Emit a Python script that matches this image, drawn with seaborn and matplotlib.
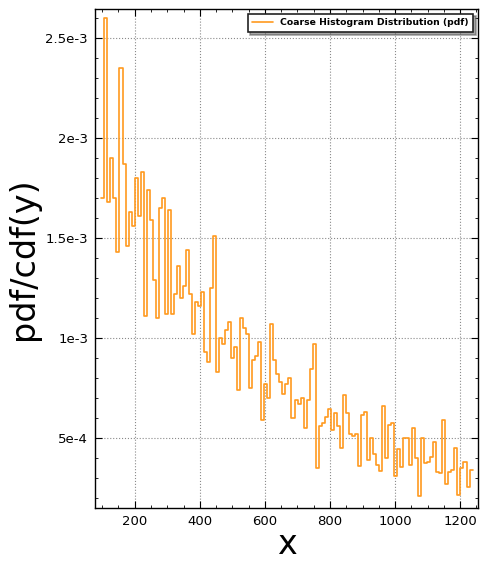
"""
Coarse histogram pdf drawn as a step outline with seaborn
"""

import numpy as np
import pandas as pd
import matplotlib
matplotlib.use('Agg')
import matplotlib.pyplot as plt
from matplotlib.ticker import MultipleLocator, FuncFormatter
import seaborn as sns

# Histogram data (bin range and pdf height per bin)
BIN_START = 97.5
BIN_END = 1238.0
PDF_VALUES = [
    1.70e-3, 2.60e-3, 1.68e-3, 1.90e-3, 1.70e-3, 1.43e-3, 2.35e-3, 1.87e-3, 1.46e-3, 1.63e-3,
    1.56e-3, 1.80e-3, 1.61e-3, 1.83e-3, 1.11e-3, 1.74e-3, 1.59e-3, 1.29e-3, 1.10e-3, 1.65e-3,
    1.70e-3, 1.12e-3, 1.64e-3, 1.12e-3, 1.22e-3, 1.36e-3, 1.20e-3, 1.26e-3, 1.44e-3, 1.22e-3,
    1.02e-3, 1.18e-3, 1.16e-3, 1.23e-3, 0.93e-3, 0.88e-3, 1.25e-3, 1.51e-3, 0.83e-3, 1.00e-3,
    0.97e-3, 1.04e-3, 1.08e-3, 0.90e-3, 0.955e-3, 0.74e-3, 1.10e-3, 1.05e-3, 1.02e-3, 0.75e-3,
    0.89e-3, 0.91e-3, 0.98e-3, 0.59e-3, 0.77e-3, 0.70e-3, 1.07e-3, 0.89e-3, 0.82e-3, 0.78e-3,
    0.72e-3, 0.77e-3, 0.80e-3, 0.60e-3, 0.69e-3, 0.67e-3, 0.70e-3, 0.55e-3, 0.69e-3, 0.845e-3,
    0.97e-3, 0.35e-3, 0.56e-3, 0.575e-3, 0.605e-3, 0.645e-3, 0.54e-3, 0.625e-3, 0.56e-3, 0.45e-3,
    0.715e-3, 0.625e-3, 0.52e-3, 0.51e-3, 0.52e-3, 0.36e-3, 0.615e-3, 0.63e-3, 0.39e-3, 0.50e-3,
    0.42e-3, 0.365e-3, 0.335e-3, 0.66e-3, 0.40e-3, 0.565e-3, 0.575e-3, 0.31e-3, 0.445e-3, 0.355e-3,
    0.50e-3, 0.50e-3, 0.365e-3, 0.55e-3, 0.40e-3, 0.21e-3, 0.50e-3, 0.375e-3, 0.38e-3, 0.405e-3,
    0.48e-3, 0.33e-3, 0.325e-3, 0.59e-3, 0.27e-3, 0.33e-3, 0.34e-3, 0.45e-3, 0.215e-3, 0.35e-3,
    0.38e-3, 0.255e-3, 0.34e-3,
]
LEGEND_LABEL = 'Coarse Histogram Distribution (pdf)'
X_LABEL = 'x'
Y_LABEL = 'pdf/cdf(y)'

LINE_COLOR = '#ff9a1f'

sns.set_style('ticks')
plt.rcParams['font.family'] = ['DejaVu Sans']


def sci_short(v, pos):
    """Format ticks like 2.5e-3, 5e-4"""
    if v == 0:
        return '0'
    mant, exp = f'{v:.1e}'.split('e')
    mant = mant.rstrip('0').rstrip('.')
    return f'{mant}e{int(exp)}'


def main():
    edges = np.linspace(BIN_START, BIN_END, len(PDF_VALUES) + 1)
    df = pd.DataFrame({
        'x': (edges[:-1] + edges[1:]) / 2,
        'pdf': PDF_VALUES,
    })

    fig, ax = plt.subplots(figsize=(4.8, 5.64), dpi=100)
    fig.subplots_adjust(left=0.198, right=0.996, top=0.984, bottom=0.099)

    sns.histplot(data=df, x='x', weights='pdf', bins=list(edges), element='step',
                 fill=False, color=LINE_COLOR, linewidth=1.2, label=LEGEND_LABEL, ax=ax)

    ax.set_xlim(78, 1255)
    ax.set_ylim(1.515e-4, 2.6465e-3)

    ax.xaxis.set_major_locator(MultipleLocator(200))
    ax.xaxis.set_minor_locator(MultipleLocator(50))
    ax.yaxis.set_major_locator(MultipleLocator(5e-4))
    ax.yaxis.set_minor_locator(MultipleLocator(1e-4))
    ax.yaxis.set_major_formatter(FuncFormatter(sci_short))

    ax.tick_params(which='both', direction='in', top=True, right=True,
                   colors='black', labelcolor='black')
    ax.tick_params(which='major', length=5, width=0.8, labelsize=9.5, pad=5)
    ax.tick_params(which='minor', length=2.5, width=0.6)
    for side in ax.spines.values():
        side.set_color('black')
        side.set_linewidth(1.0)

    ax.grid(True, which='major', linestyle=':', color='#8a8a8a', linewidth=0.8)

    ax.set_xlabel(X_LABEL, fontsize=24, color='black', labelpad=0)
    ax.set_ylabel(Y_LABEL, fontsize=24, color='black')

    leg = ax.legend(loc='upper right', fancybox=False, shadow=True,
                    prop={'weight': 'bold', 'size': 6.7}, handlelength=2.2,
                    borderpad=0.5, framealpha=1)
    leg.get_frame().set_edgecolor('#222222')
    leg.get_frame().set_linewidth(1.2)
    for t in leg.get_texts():
        t.set_color('black')

    fig.savefig('out.png', dpi=100)
    plt.close(fig)


if __name__ == '__main__':
    main()
